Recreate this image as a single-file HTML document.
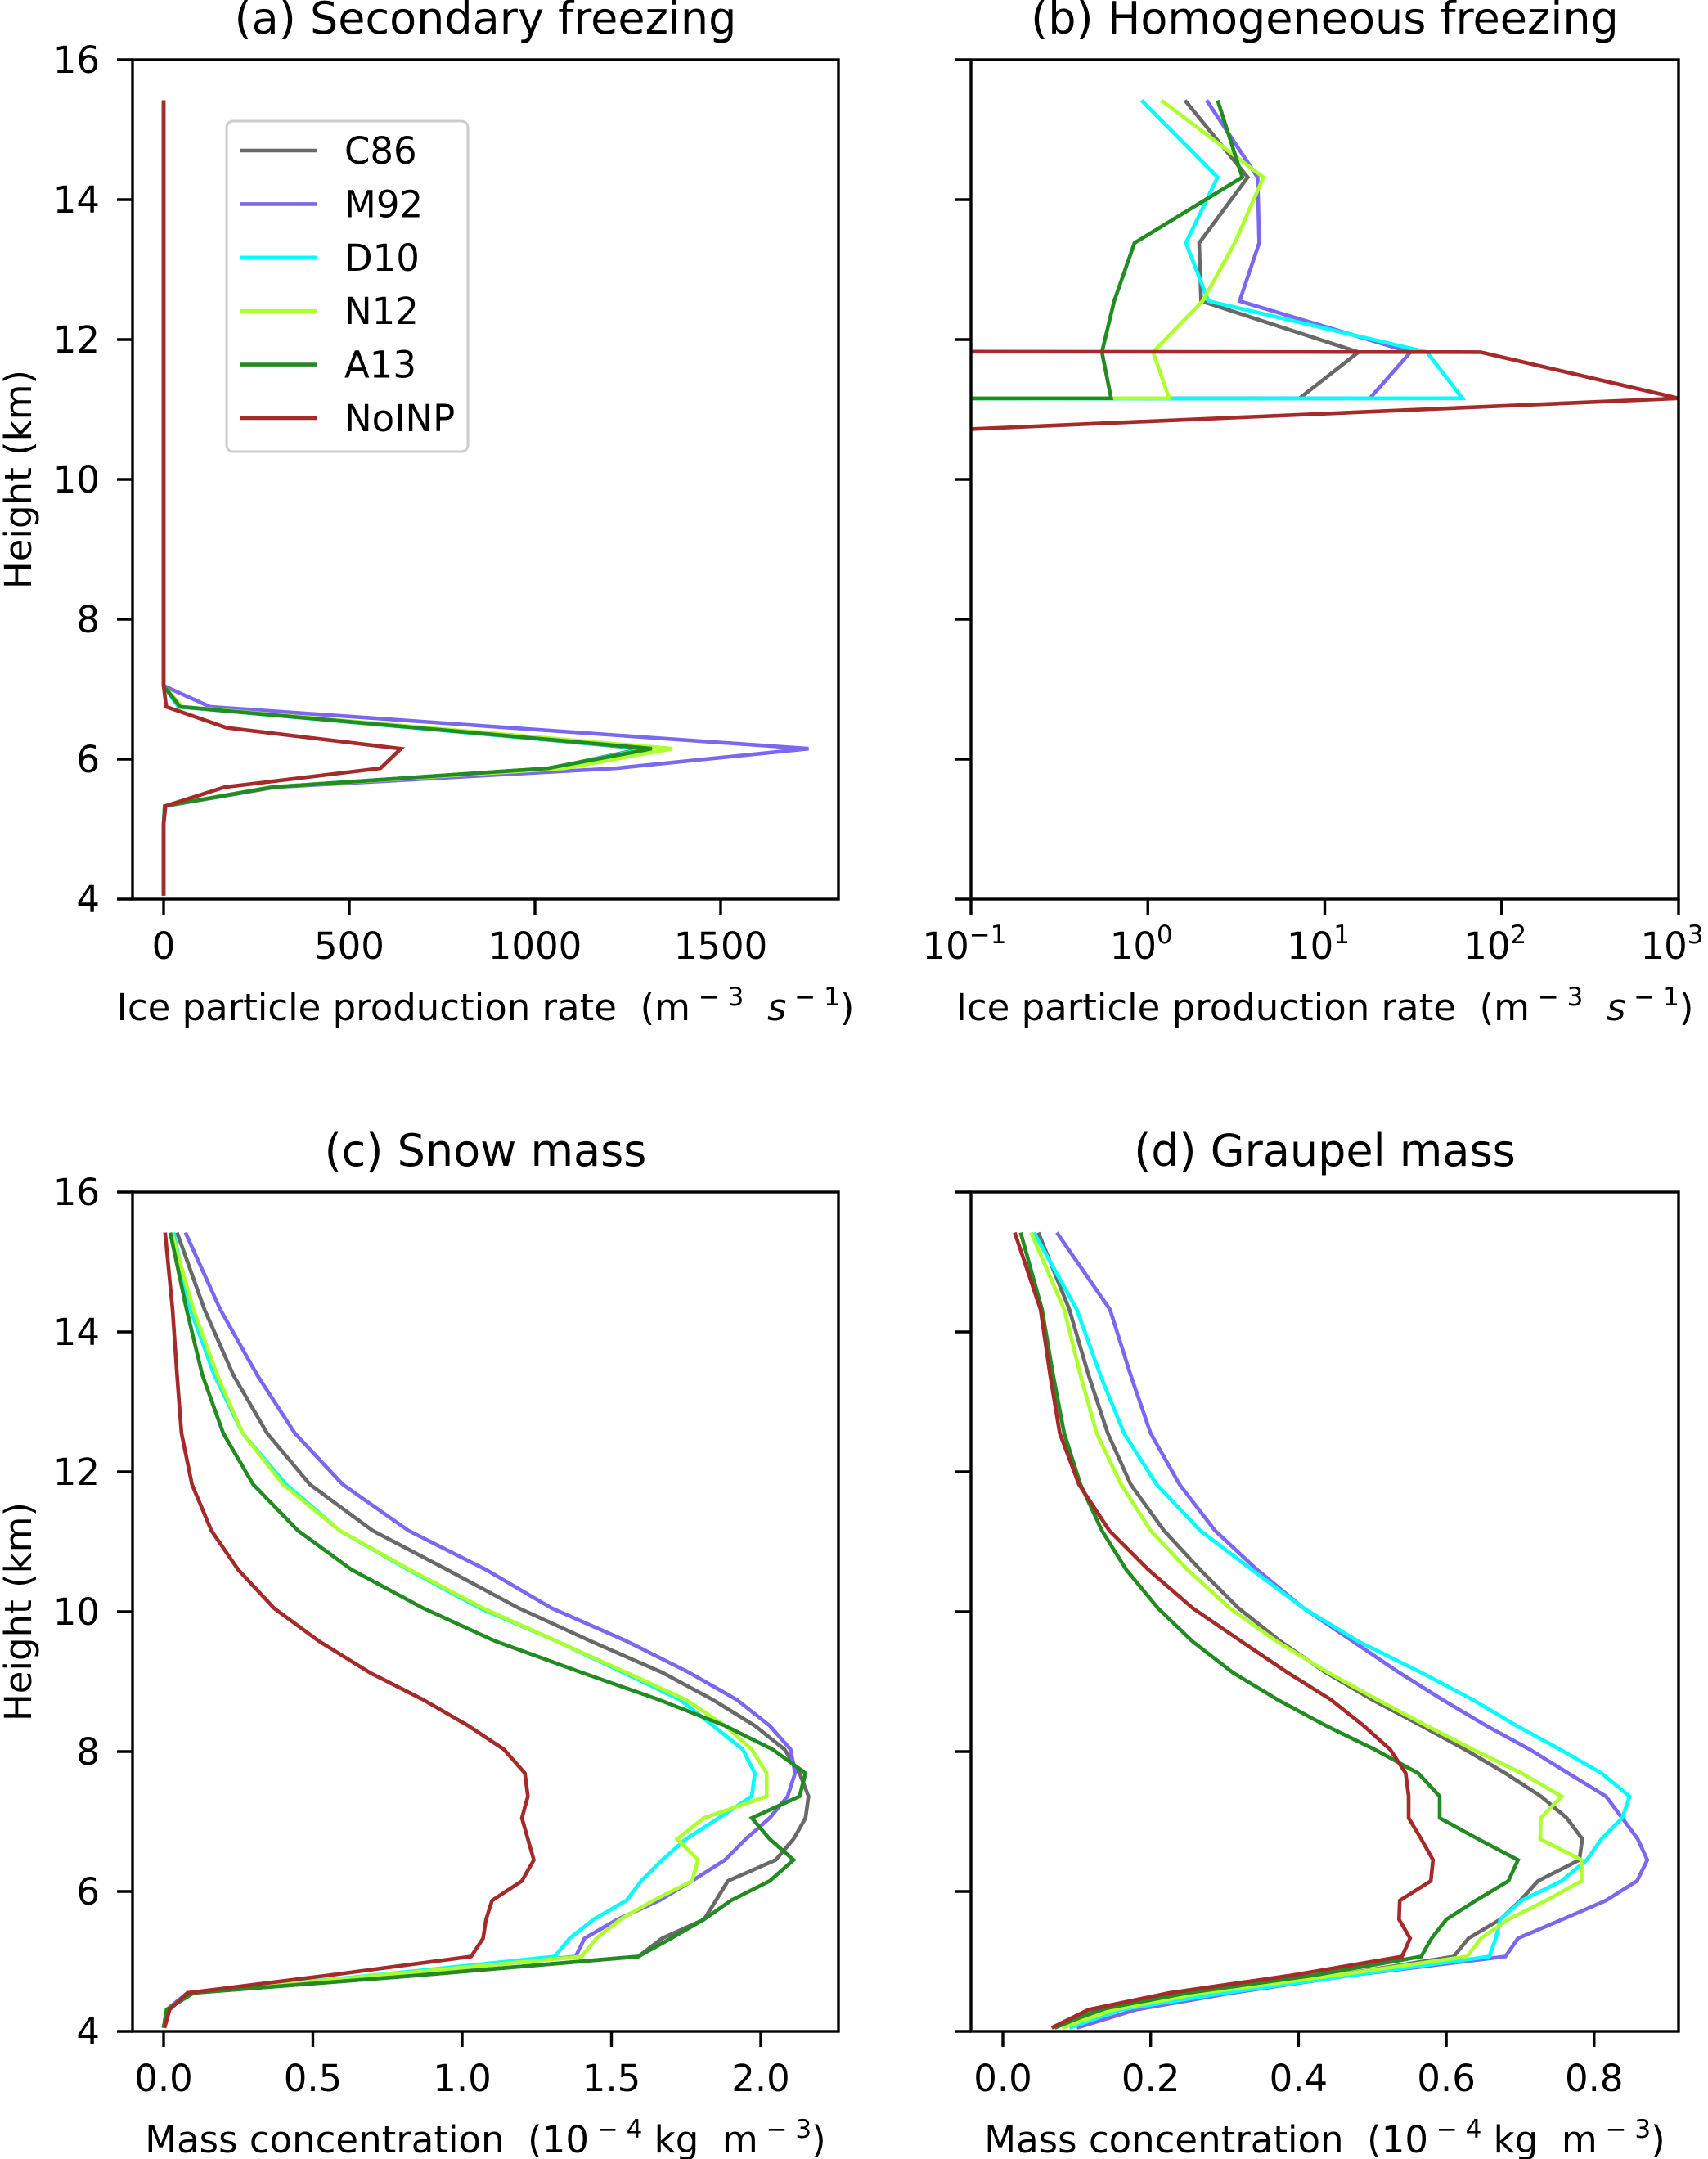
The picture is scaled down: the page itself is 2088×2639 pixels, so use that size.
<!DOCTYPE html>
<html><head><meta charset="utf-8">
<style>
html,body{margin:0;padding:0;background:#fff;}
svg{display:block;font-family:"DejaVu Sans","Liberation Sans",sans-serif;}
text{white-space:pre;}
</style></head>
<body>
<svg id="fig" xmlns="http://www.w3.org/2000/svg" width="2088" height="2639" viewBox="0 0 2088 2639">
<rect x="0" y="0" width="2088" height="2639" fill="#fff"/>
</svg>
<script>
// ---- data ----
const heights=[15.42,14.32,13.38,12.55,11.82,11.16,10.6,10.05,9.58,9.13,8.74,8.37,8.03,7.69,7.36,7.05,6.75,6.45,6.15,5.87,5.6,5.33,5.07,4.8,4.55,4.31,4.05];
const seriesNames=["C86","M92","D10","N12","A13","NoINP"];
const seriesColors=["#696969","#7b68ee","#00ffff","#adff2f","#228b22","#a52a2a"];
// (a) secondary freezing
const aC86=[0,0,0,0,0,0,0,0,0,0,0,0,0,0,0,0,40,680,1290,1040,290,3,0,0,0,0,0];
const aM92=[0,0,0,0,0,0,0,0,0,0,0,0,0,0,0,0,125,930,1737,1219,300,5,0,0,0,0,0];
const aD10=[0,0,0,0,0,0,0,0,0,0,0,0,0,0,0,0,40,670,1300,1040,290,3,0,0,0,0,0];
const aN12=[0,0,0,0,0,0,0,0,0,0,0,0,0,0,0,0,50,710,1370,1080,290,3,0,0,0,0,0];
const aA13=[0,0,0,0,0,0,0,0,0,0,0,0,0,0,0,0,44,680,1315,1035,294,3,0,0,0,0,0];
const aNoINP=[0,0,0,0,0,0,0,0,0,0,0,0,0,0,0,0,7,169,639,584,164,5,0,0,0,0,0];
// (b) homogeneous freezing
const bC86=[1.62,3.67,1.95,2.0,15.5,7.2,0,0,0,0,0,0,0,0,0,0,0,0,0,0,0,0,0,0,0,0,0];
const bM92=[2.15,4.17,4.26,3.3,30.5,18,0,0,0,0,0,0,0,0,0,0,0,0,0,0,0,0,0,0,0,0,0];
const bD10=[0.92,2.48,1.64,2.2,37.8,60,0,0,0,0,0,0,0,0,0,0,0,0,0,0,0,0,0,0,0,0,0];
const bN12=[1.19,4.5,3.1,2.04,1.07,1.32,0,0,0,0,0,0,0,0,0,0,0,0,0,0,0,0,0,0,0,0,0];
const bA13=[2.48,3.42,0.84,0.645,0.55,0.62,0,0,0,0,0,0,0,0,0,0,0,0,0,0,0,0,0,0,0,0,0];
const bNoINP=[0,0,0,0,76,1000,0.008,0,0,0,0,0,0,0,0,0,0,0,0,0,0,0,0,0,0,0,0];
// (c) snow mass
const cC86=[0.045,0.137,0.234,0.347,0.49,0.70,0.95,1.19,1.43,1.67,1.84,1.98,2.08,2.13,2.16,2.15,2.11,2.05,1.89,1.85,1.81,1.67,1.59,0.85,0.1,0.01,0];
const cM92=[0.073,0.19,0.314,0.44,0.6,0.82,1.08,1.3,1.55,1.76,1.92,2.03,2.1,2.115,2.09,2.03,1.95,1.88,1.77,1.66,1.52,1.41,1.38,0.75,0.08,0.01,0];
const cD10=[0.033,0.09,0.17,0.265,0.41,0.59,0.82,1.06,1.315,1.54,1.73,1.84,1.94,1.98,1.97,1.86,1.75,1.67,1.6,1.55,1.44,1.36,1.31,0.7,0.1,0.01,0];
const cN12=[0.027,0.1,0.18,0.265,0.4,0.59,0.825,1.07,1.315,1.55,1.75,1.88,1.97,2.02,2.02,1.81,1.72,1.79,1.77,1.64,1.53,1.45,1.4,0.72,0.1,0.01,0];
const cA13=[0.022,0.077,0.13,0.2,0.3,0.45,0.63,0.87,1.11,1.4,1.66,1.88,2.04,2.15,2.13,1.97,2.03,2.11,2.03,1.9,1.81,1.7,1.59,0.85,0.1,0.01,0];
const cNoINP=[0.005,0.03,0.045,0.06,0.095,0.16,0.25,0.37,0.52,0.69,0.87,1.02,1.14,1.21,1.22,1.2,1.22,1.24,1.2,1.1,1.08,1.07,1.03,0.55,0.08,0.02,0.003];
// (d) graupel mass
const dC86=[0.048,0.09,0.116,0.142,0.173,0.218,0.267,0.319,0.375,0.437,0.5,0.566,0.625,0.68,0.728,0.763,0.784,0.78,0.724,0.7,0.673,0.63,0.61,0.45,0.26,0.14,0.08];
const dM92=[0.073,0.145,0.173,0.2,0.239,0.287,0.344,0.407,0.473,0.536,0.595,0.654,0.713,0.765,0.816,0.838,0.859,0.872,0.858,0.816,0.757,0.697,0.68,0.47,0.31,0.18,0.1];
const dD10=[0.042,0.1,0.132,0.164,0.208,0.267,0.337,0.407,0.48,0.566,0.636,0.695,0.754,0.81,0.848,0.838,0.81,0.79,0.756,0.702,0.673,0.667,0.658,0.47,0.3,0.16,0.09];
const dN12=[0.038,0.083,0.105,0.127,0.16,0.2,0.25,0.307,0.37,0.44,0.507,0.573,0.636,0.702,0.756,0.728,0.727,0.783,0.783,0.735,0.684,0.647,0.628,0.45,0.27,0.15,0.08];
const dA13=[0.024,0.053,0.068,0.083,0.105,0.134,0.167,0.21,0.256,0.311,0.372,0.437,0.503,0.562,0.591,0.591,0.643,0.697,0.684,0.64,0.6,0.58,0.566,0.42,0.25,0.13,0.07];
const dNoINP=[0.016,0.051,0.064,0.077,0.103,0.144,0.197,0.257,0.322,0.385,0.444,0.488,0.524,0.545,0.549,0.549,0.566,0.582,0.579,0.537,0.536,0.551,0.54,0.39,0.225,0.116,0.066];
// ticks
const yTicks=[4,6,8,10,12,14,16];
const aTicks=[0,500,1000,1500];
const bTicks=[-1,0,1,2,3];
const cTicks=[0,0.5,1.0,1.5,2.0];
const cTickLabels=["0.0","0.5","1.0","1.5","2.0"];
const dTicks=[0,0.2,0.4,0.6,0.8];
const dTickLabels=["0.0","0.2","0.4","0.6","0.8"];

const NS="http://www.w3.org/2000/svg";
const svg=document.getElementById('fig');
const FS=45, FT=54, FSUP=31;
function mk(tag,attrs,parent){const e=document.createElementNS(NS,tag);for(const k in attrs)e.setAttribute(k,attrs[k]);(parent||svg).appendChild(e);return e;}

function panel(opt){
  const g=mk('g',{});
  
  
  const L=opt.left,R=opt.right,T=opt.top,B=opt.bottom;
  const ys=h=>B-(h-4)*(B-T)/12;
  const xs=opt.xs;
  const cid='clip-'+opt.name;
  const cp=mk('clipPath',{id:cid},g);
  mk('rect',{x:L,y:T,width:R-L,height:B-T},cp);
  const sg=mk('g',{'clip-path':'url(#'+cid+')'},g);
  
  
  opt.series.forEach((arr,i)=>{
    const pts=arr.map((v,j)=>xs(v).toFixed(2)+','+ys(heights[j]).toFixed(2)).join(' ');
    const pl=mk('polyline',{points:pts,fill:'none',stroke:seriesColors[i],'stroke-width':4.6,'stroke-linejoin':'miter','stroke-miterlimit':4},sg);
    
    
  });
  const fr=mk('rect',{x:L,y:T,width:R-L,height:B-T,fill:'none',stroke:'#000','stroke-width':3.4},g);
  
  
  yTicks.forEach(t=>{
    const y=ys(t);
    const tk=mk('line',{x1:L-19,x2:L,y1:y,y2:y,stroke:'#000','stroke-width':3.4},g);
    
    
    if(opt.yLabels){
      const tx=mk('text',{x:L-40,y:y+16,'text-anchor':'end','font-size':FS},g);
      tx.textContent=String(t);
      
      
    }
  });
  opt.xTicks.forEach((t,i)=>{
    const x=opt.xt(t);
    const tk=mk('line',{x1:x,x2:x,y1:B,y2:B+19,stroke:'#000','stroke-width':3.4},g);
    
    
    const tx=mk('text',{x:x,y:B+73,'text-anchor':'middle','font-size':FS},g);
    
    
    if(opt.log){
      tx.setAttribute('x',x-8);
      const a=mk('tspan',{},tx);a.textContent='10';
      const b=mk('tspan',{'font-size':FSUP,dy:-19},tx);b.textContent=(t<0?'\u2212':'')+Math.abs(t);
    } else tx.textContent=opt.xLabels[i];
  });
  const ti=mk('text',{x:(L+R)/2,y:T-32,'text-anchor':'middle','font-size':FT},g);
  ti.textContent=opt.title;
  
  
  const xl=mk('text',{x:(L+R)/2,y:B+148,'text-anchor':'middle','font-size':FS},g);
  
  
  opt.xlabel(xl);
  if(opt.yLabels){
    const yl=mk('text',{x:0,y:0,'text-anchor':'middle','font-size':FS,transform:'translate(38,'+((T+B)/2)+') rotate(-90)'},g);
    yl.textContent='Height (km)';
    
    
  }
  return g;
}
function rateLabel(t){
  const s=(txt,attrs)=>{const e=mk('tspan',attrs||{},t);e.textContent=txt;return e;};
  s('Ice particle production rate  (m');
  s(' \u2212 3',{'font-size':FSUP,dy:-18});
  s('  ',{dy:18});
  s('s',{'font-style':'italic'});
  s(' \u2212 1',{'font-size':FSUP,dy:-18});
  s(')',{dy:18});
}
function massLabel(t){
  const s=(txt,attrs)=>{const e=mk('tspan',attrs||{},t);e.textContent=txt;return e;};
  s('Mass concentration  (10');
  s(' \u2212 4',{'font-size':FSUP,dy:-18});
  s(' kg  m',{dy:18});
  s(' \u2212 3',{'font-size':FSUP,dy:-18});
  s(')',{dy:18});
}
const linA=v=>200+v*(227/500);
const logB=v=>{const lv=Math.log10(v>0?v:1e-300);return 1187+(lv+1)*(865/4);};
const linC=v=>200+v*365;
const linD=v=>1226+v*903.5;

panel({name:'panel-a-secondary-freezing',left:162,right:1025,top:73,bottom:1099,xs:linA,xt:linA,xTicks:aTicks,xLabels:aTicks.map(String),yLabels:true,title:'(a) Secondary freezing',xlabel:rateLabel,series:[aC86,aM92,aD10,aN12,aA13,aNoINP]});
panel({name:'panel-b-homogeneous-freezing',left:1187,right:2052,top:73,bottom:1099,xs:logB,xt:t=>1187+(t+1)*(865/4),xTicks:bTicks,log:true,yLabels:false,title:'(b) Homogeneous freezing',xlabel:rateLabel,series:[bC86,bM92,bD10,bN12,bA13,bNoINP]});
panel({name:'panel-c-snow-mass',left:162,right:1025,top:1457,bottom:2483,xs:linC,xt:linC,xTicks:cTicks,xLabels:cTickLabels,yLabels:true,title:'(c) Snow mass',xlabel:massLabel,series:[cC86,cM92,cD10,cN12,cA13,cNoINP]});
panel({name:'panel-d-graupel-mass',left:1187,right:2052,top:1457,bottom:2483,xs:linD,xt:linD,xTicks:dTicks,xLabels:dTickLabels,yLabels:false,title:'(d) Graupel mass',xlabel:massLabel,series:[dC86,dM92,dD10,dN12,dA13,dNoINP]});

const lg=mk('g',{});


mk('rect',{x:277,y:148,width:295,height:404,rx:8,ry:8,fill:'#fff','fill-opacity':0.8,stroke:'#cccccc','stroke-width':3},lg);
seriesNames.forEach((n,i)=>{
  const y=184+i*65.4;
  const ln=mk('line',{x1:293,x2:388,y1:y,y2:y,stroke:seriesColors[i],'stroke-width':4.6},lg);
  
  
  const tx=mk('text',{x:421,y:y+16,'font-size':FS},lg);
  tx.textContent=n;
  
  
});
</script>
</body></html>
